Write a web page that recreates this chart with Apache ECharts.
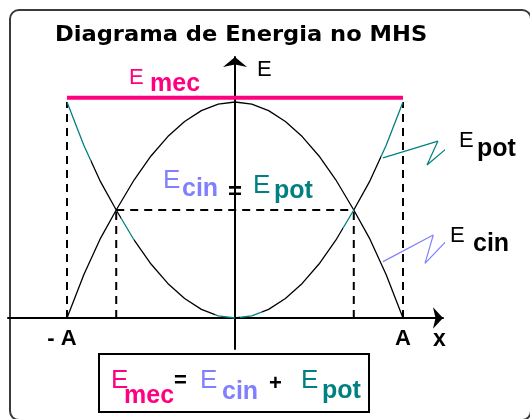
<!DOCTYPE html>
<html>
<head>
<meta charset="utf-8">
<title>Diagrama de Energia no MHS</title>
<script src="https://cdn.jsdelivr.net/npm/echarts@6/dist/echarts.min.js"></script>
<style>
  html, body { margin: 0; padding: 0; background: #fff; }
  #chart { width: 530px; height: 419px; }
</style>
</head>
<body>
<div id="chart"></div>
<script>
// posição em unidades de A, energia em unidades da energia máxima
const posX = [-1, -0.9, -0.8, -0.707, -0.6, -0.5, -0.4, -0.3, -0.2, -0.1, 0, 0.1, 0.2, 0.3, 0.4, 0.5, 0.6, 0.707, 0.8, 0.9, 1]
const eCin = [0, 0.2, 0.37, 0.5, 0.64, 0.75, 0.84, 0.91, 0.96, 0.99, 1, 0.99, 0.96, 0.91, 0.84, 0.75, 0.64, 0.5, 0.37, 0.2, 0]
const ePot = [1, 0.8, 0.63, 0.5, 0.36, 0.25, 0.16, 0.09, 0.04, 0.01, 0, 0.01, 0.04, 0.09, 0.16, 0.25, 0.36, 0.5, 0.63, 0.8, 1]
const eMec = 1.02
const ampX = [-1, 1]
const meioX = [-0.707, 0.707]
const meioE = 0.5
const rotulosX = ['- A', 'A']
// trechos da curva de E_pot que aparecem em verde-azulado
const potTeal = [[-1, -0.86], [-0.68, -0.6], [-0.12, 0], [0.03, 0.16], [0.64, 0.71], [0.87, 1]]
// setas em zigue-zague das legendas
const setaPotX = [0.881, 1.208, 1.143, 1.339]
const setaPotE = [0.741, 0.819, 0.708, 0.838]
const setaCinX = [0.881, 1.18, 1.131, 1.304]
const setaCinE = [0.261, 0.384, 0.253, 0.395]

const PINK = '#ff0080'
const BLUE = '#8080ff'
const TEAL = '#008080'
const FONT = 'Liberation Sans'

function pairs(xs, ys) {
  return xs.map((x, i) => [x, ys[i]])
}

function dashed(data) {
  return {
    type: 'line',
    data: data,
    symbol: 'none',
    silent: true,
    lineStyle: { color: '#000', width: 2, type: [8, 6] },
    z: 1
  }
}

// texto posicionado pela linha de base
function txt(x, base, s, size, color, bold, family, scaleX) {
  return {
    type: 'text',
    x: x,
    y: base - 0.226 * size,
    scaleX: scaleX || 1,
    style: {
      text: s,
      fontFamily: family || FONT,
      fontSize: size,
      fontWeight: bold ? 'bold' : 'normal',
      fill: color,
      align: 'left',
      verticalAlign: 'middle'
    }
  }
}

const chart = echarts.init(document.getElementById('chart'))

const option = {
  animation: false,
  grid: { left: 8, right: 87, top: 57, bottom: 70, outerBoundsMode: 'none' },
  xAxis: {
    type: 'value',
    min: -1.3512,
    max: 1.2381,
    splitLine: { show: false },
    axisTick: { show: false },
    axisLine: {
      onZero: true,
      symbol: ['none', 'arrow'],
      symbolSize: [16, 10],
      lineStyle: { color: '#000', width: 2 }
    },
    axisLabel: {
      customValues: ampX,
      margin: -21,
      formatter: v => (v < 0 ? '{neg|' + rotulosX[0] + '}' : '{pos|' + rotulosX[1] + '}'),
      rich: {
        neg: { fontFamily: FONT, fontSize: 22, fontWeight: 'bold', color: '#000', padding: [0, 10, 0, 0] },
        pos: { fontFamily: FONT, fontSize: 22, fontWeight: 'bold', color: '#000' }
      }
    }
  },
  yAxis: {
    type: 'value',
    min: -0.1435,
    max: 1.2083,
    splitLine: { show: false },
    axisTick: { show: false },
    axisLabel: { show: false },
    axisLine: {
      onZero: true,
      symbol: ['none', 'arrow'],
      symbolSize: [18, 10],
      lineStyle: { color: '#000', width: 2 }
    }
  },
  visualMap: {
    show: false,
    type: 'piecewise',
    seriesIndex: 1,
    dimension: 0,
    pieces: potTeal.map(p => ({ gte: p[0], lte: p[1], color: TEAL })),
    outOfRange: { color: '#000' }
  },
  series: [
    {
      name: 'E cin',
      type: 'line',
      data: pairs(posX, eCin),
      symbol: 'none',
      lineStyle: { color: '#000', width: 1.3 },
      z: 3
    },
    {
      name: 'E pot',
      type: 'line',
      data: pairs(posX, ePot),
      symbol: 'none',
      lineStyle: { width: 1.3 },
      z: 3
    },
    {
      name: 'E mec',
      type: 'line',
      data: ampX.map(x => [x, eMec]),
      symbol: 'none',
      lineStyle: { color: PINK, width: 4 },
      z: 4
    },
    ...ampX.map(x => dashed([[x, 0], [x, ePot[0]]])),
    ...meioX.map(x => dashed([[x, 0], [x, meioE]])),
    dashed(meioX.map(x => [x, meioE])),
    {
      type: 'line',
      data: pairs(setaPotX, setaPotE),
      symbol: 'none',
      clip: false,
      lineStyle: { color: TEAL, width: 1.2 },
      z: 5
    },
    {
      type: 'line',
      data: pairs(setaCinX, setaCinE),
      symbol: 'none',
      clip: false,
      lineStyle: { color: BLUE, width: 1.2 },
      z: 5
    }
  ],
  graphic: [
    {
      type: 'rect',
      shape: { x: 10, y: 10, width: 521, height: 410, r: 9 },
      style: { fill: 'none', stroke: '#3a3a3a', lineWidth: 2 },
      silent: true
    },
    {
      type: 'rect',
      shape: { x: 99, y: 354, width: 270, height: 58 },
      style: { fill: '#fff', stroke: '#000', lineWidth: 2 },
      silent: true
    },
    txt(55, 40.5, 'Diagrama de Energia no MHS', 21, '#000', true, 'DejaVu Sans', 1.075),
    txt(257, 75, 'E', 22, '#000', false),
    // E mec acima da linha
    txt(129, 83, 'E', 22, PINK, false),
    txt(150, 90, 'mec', 25, PINK, true),
    // rótulos à direita
    txt(459, 146, 'E', 22, '#000', false),
    txt(477, 155, 'pot', 25, '#000', true),
    txt(450, 241, 'E', 22, '#000', false),
    txt(473, 250, 'cin', 25, '#000', true),
    // E cin = E pot no meio
    txt(163, 187, 'E', 26, BLUE, false),
    txt(182, 195, 'cin', 25, BLUE, true),
    txt(228, 198, '=', 24, '#000', true),
    txt(253, 192, 'E', 26, TEAL, false),
    txt(274, 197, 'pot', 25, TEAL, true),
    // eixo x
    txt(433, 345, 'x', 23, '#000', true),
    // E mec = E cin + E pot
    txt(111, 387, 'E', 26, PINK, false),
    txt(124, 402, 'mec', 25, PINK, true),
    txt(174, 386, '=', 22, '#000', true),
    txt(200, 387, 'E', 26, BLUE, false),
    txt(222, 398, 'cin', 25, BLUE, true),
    txt(269, 389, '+', 22, '#000', true),
    txt(301, 387, 'E', 26, TEAL, false),
    txt(322, 397, 'pot', 25, TEAL, true)
  ]
}

chart.setOption(option)
window.addEventListener('resize', () => chart.resize())
</script>
</body>
</html>
